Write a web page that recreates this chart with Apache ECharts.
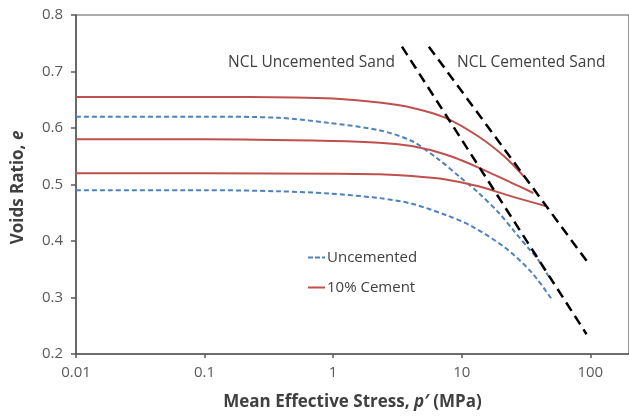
<!DOCTYPE html>
<html>
<head>
<meta charset="utf-8">
<script src="https://cdn.jsdelivr.net/npm/echarts@6/dist/echarts.min.js"></script>
<style>
  html, body { margin: 0; padding: 0; background: #fff; }
  #chart { width: 629px; height: 416px; }
</style>
</head>
<body>
<div id="chart"></div>
<script>
// Mean effective stress p' (MPa) and voids ratio e for each compression curve
const cem1P = [0.01, 0.1, 0.5, 1, 2.28, 4.09, 7.5, 13.5, 21.9, 30.2];
const cem1E = [0.655, 0.655, 0.654, 0.652, 0.645, 0.636, 0.618, 0.585, 0.548, 0.515];

const cem2P = [0.01, 0.1, 1, 2.28, 4.09, 7.5, 13.5, 24.4, 36.1];
const cem2E = [0.580, 0.580, 0.577, 0.574, 0.568, 0.553, 0.530, 0.503, 0.485];

const cem3P = [0.01, 0.1, 1, 2.28, 4.09, 7.5, 13.5, 24.4, 44.8];
const cem3E = [0.520, 0.520, 0.519, 0.518, 0.515, 0.509, 0.497, 0.479, 0.462];

const unc1P = [0.01, 0.1, 0.38, 0.93, 2.28, 4.09, 6.64, 9.48, 13.55, 19.4, 26.1, 33.1, 39.5, 47.2];
const unc1E = [0.620, 0.620, 0.618, 0.609, 0.596, 0.577, 0.544, 0.515, 0.485, 0.450, 0.415, 0.387, 0.366, 0.338];

const unc2P = [0.01, 0.1, 0.38, 0.93, 2.28, 4.09, 7.52, 12.0, 21.8, 35.1, 50.1];
const unc2E = [0.490, 0.490, 0.488, 0.484, 0.476, 0.466, 0.446, 0.426, 0.388, 0.344, 0.297];

// Normal compression lines
const nclUncP = [3.43, 93.5];
const nclUncE = [0.744, 0.235];
const nclCemP = [5.55, 93.5];
const nclCemE = [0.744, 0.365];

const xTicks = [0.01, 0.1, 1, 10, 100];
const yTicks = [0.2, 0.3, 0.4, 0.5, 0.6, 0.7, 0.8];

const pairs = (xs, ys) => xs.map((x, i) => [x, ys[i]]);

const FONT = 'Open Sans';
const AXIS_COLOR = '#595959';
const TEXT_COLOR = '#404040';
const RED = '#C0504D';
const BLUE = '#4F81BD';

const chart = echarts.init(document.getElementById('chart'));

const redLine = (data) => ({
  name: '10% Cement', type: 'line', data, symbol: 'none', smooth: 0.3,
  lineStyle: { color: RED, width: 2 }, itemStyle: { color: RED }, z: 3
});
const blueLine = (data) => ({
  name: 'Uncemented', type: 'line', data, symbol: 'none', smooth: 0.3,
  lineStyle: { color: BLUE, width: 2, type: [5, 3] }, itemStyle: { color: BLUE }, z: 2
});
const nclLine = (name, data) => ({
  name, type: 'line', data, symbol: 'none',
  lineStyle: { color: '#000', width: 2.5, type: [10, 6] }, z: 4
});

const titleStyle = (extra) => Object.assign({
  fontFamily: FONT, fontWeight: 'bold', fontSize: 17, color: TEXT_COLOR,
  rich: { i: { fontFamily: FONT, fontWeight: 'bold', fontStyle: 'italic', fontSize: 17, color: TEXT_COLOR } }
}, extra);

chart.setOption({
  animation: false,
  backgroundColor: '#fff',
  grid: {
    left: 76, right: -1, top: 15, bottom: 61,
    show: true, borderColor: AXIS_COLOR, borderWidth: 1.2, backgroundColor: 'transparent'
  },
  xAxis: {
    type: 'log', logBase: 10, min: xTicks[0], max: 200,
    name: 'Mean Effective Stress, {i|p\u2032} (MPa)',
    nameLocation: 'middle', nameGap: 40,
    nameTextStyle: titleStyle({}),
    axisLine: { lineStyle: { color: AXIS_COLOR, width: 1.5 } },
    axisTick: { inside: false, length: 4, lineStyle: { color: AXIS_COLOR, width: 1.5 } },
    axisLabel: {
      fontFamily: FONT, fontSize: 15, color: '#595959', margin: 11,
      showMaxLabel: false,
      formatter: v => (xTicks.some(t => Math.abs(t - v) / t < 1e-6) ? String(v) : '')
    },
    splitLine: { show: false }, minorTick: { show: false }
  },
  yAxis: {
    type: 'value', min: yTicks[0], max: yTicks[yTicks.length - 1], interval: 0.1,
    name: 'Voids Ratio, {i|e}',
    nameLocation: 'middle', nameGap: 49,
    nameTextStyle: titleStyle({ padding: [0, 6, 0, 0] }),
    axisLine: { show: true, lineStyle: { color: AXIS_COLOR, width: 1.5 } },
    axisTick: { show: true, inside: false, length: 5, lineStyle: { color: AXIS_COLOR, width: 1.5 } },
    axisLabel: { fontFamily: FONT, fontSize: 15, color: '#595959', margin: 13,
      formatter: v => v.toFixed(1) },
    splitLine: { show: false }
  },
  legend: {
    orient: 'vertical', left: 303, top: 245, itemGap: 15,
    itemWidth: 17, itemHeight: 20,
    data: [
      { name: 'Uncemented', icon: 'path://M0,9h5v2h-5z M7,9h5v2h-5z M14,9h3v2h-3z', itemStyle: { color: BLUE } },
      { name: '10% Cement', icon: 'path://M0,9h17v2h-17z', itemStyle: { color: RED } }
    ],
    textStyle: { fontFamily: FONT, fontSize: 15, color: TEXT_COLOR, padding: [0, 0, 0, -3] }
  },
  series: [
    blueLine(pairs(unc1P, unc1E)),
    blueLine(pairs(unc2P, unc2E)),
    redLine(pairs(cem1P, cem1E)),
    redLine(pairs(cem2P, cem2E)),
    redLine(pairs(cem3P, cem3E)),
    nclLine('NCL Uncemented Sand', pairs(nclUncP, nclUncE)),
    nclLine('NCL Cemented Sand', pairs(nclCemP, nclCemE))
  ],
  graphic: [
    { type: 'text', left: 228, top: 55,
      style: { text: 'NCL Uncemented Sand', font: '15.5px "Open Sans"', fill: TEXT_COLOR } },
    { type: 'text', left: 457, top: 55,
      style: { text: 'NCL Cemented Sand', font: '15.5px "Open Sans"', fill: TEXT_COLOR } }
  ]
});
</script>
</body>
</html>
